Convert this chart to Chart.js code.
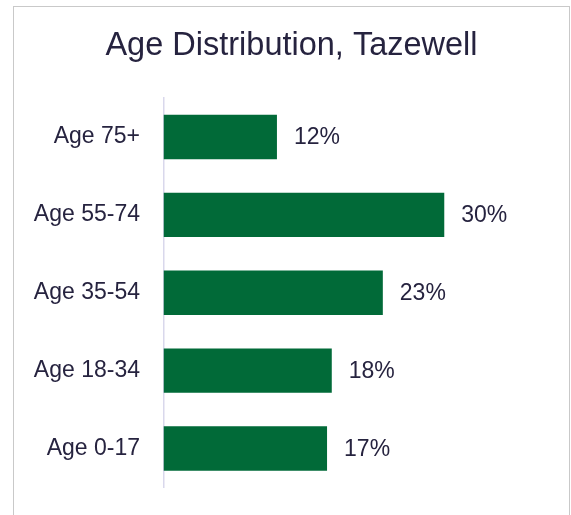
<!DOCTYPE html>
<html>
<head>
<meta charset="utf-8">
<script src="https://cdn.jsdelivr.net/npm/chart.js@4.4.1/dist/chart.umd.min.js"></script>
<style>
  html, body { margin: 0; padding: 0; background: #fff; }
  #frame {
    position: absolute; left: 13px; top: 6px;
    width: 555px; height: 520px;
    border: 1.5px solid #c9c9c9; border-bottom: none;
  }
  #wrap { position: absolute; left: 13px; top: 6px; width: 557px; height: 509px; }
</style>
</head>
<body>
<div id="frame"></div>
<div id="wrap"><canvas id="chart" width="557" height="509"></canvas></div>
<script>
var titleText = "Age Distribution, Tazewell";
var ageGroups = ["Age 75+", "Age 55-74", "Age 35-54", "Age 18-34", "Age 0-17"];
var sharePct = [12.0, 29.7, 23.2, 17.8, 17.3];

var navy = "#26233f";
var font = "'Liberation Sans', Arial, sans-serif";

// prints the rounded share to the right of each bar
var valueLabels = {
    id: "valueLabels",
    afterDatasetsDraw: function (chart) {
        var ctx = chart.ctx;
        var meta = chart.getDatasetMeta(0);
        ctx.save();
        ctx.font = "23px " + font;
        ctx.fillStyle = navy;
        ctx.textAlign = "left";
        ctx.textBaseline = "middle";
        meta.data.forEach(function (bar, i) {
            ctx.fillText(Math.round(sharePct[i]) + "%", bar.x + 17, bar.y + 1);
        });
        ctx.restore();
    }
};

new Chart(document.getElementById("chart"), {
    type: "bar",
    data: {
        labels: ageGroups,
        datasets: [{
            data: sharePct,
            backgroundColor: "#016a38",
            borderWidth: 0,
            categoryPercentage: 1,
            barPercentage: 0.57
        }]
    },
    options: {
        indexAxis: "y",
        responsive: false,
        animation: false,
        devicePixelRatio: 1,
        layout: { padding: { left: 0, right: 0, top: 0, bottom: 27.5 } },
        scales: {
            x: { display: false, min: 0, max: 43 },
            y: {
                afterFit: function (scale) {
                    scale.width = 150.5;
                    scale.paddingTop = 0;
                    scale.paddingBottom = 0;
                },
                grid: { display: false, drawTicks: false },
                border: { display: true, color: "#d9d8ec", width: 1.5 },
                ticks: {
                    padding: 23.5,
                    color: navy,
                    font: { family: font, size: 23 }
                }
            }
        },
        plugins: {
            legend: { display: false },
            tooltip: { enabled: false },
            title: {
                display: true,
                text: titleText,
                color: navy,
                font: { family: font, size: 32.5, weight: "normal" },
                padding: { top: 20.5, bottom: 32.5 }
            }
        }
    },
    plugins: [valueLabels]
});
</script>
</body>
</html>
